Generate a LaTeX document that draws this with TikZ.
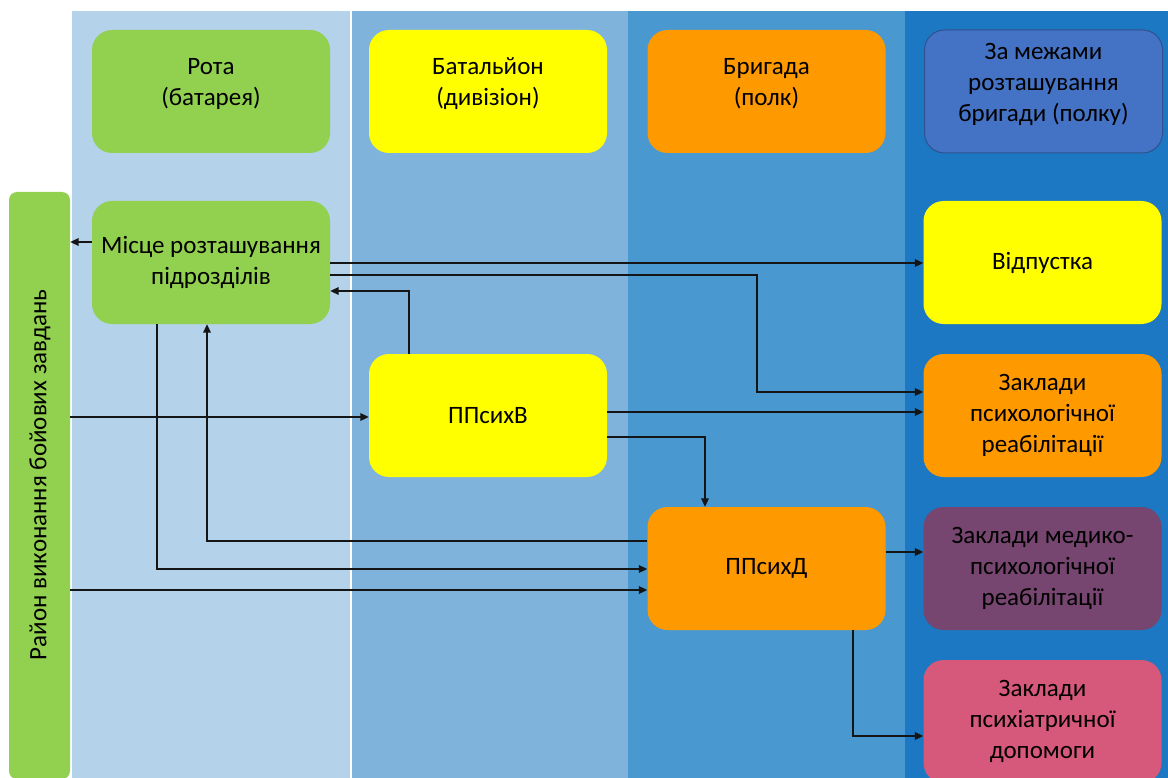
\documentclass[tikz,border=0pt]{standalone}
\usepackage{fontspec}
\setmainfont{Carlito}
\usetikzlibrary{arrows.meta}
\definecolor{colA}{HTML}{B4D2EA}
\definecolor{colB}{HTML}{7FB3DC}
\definecolor{colC}{HTML}{4A98D0}
\definecolor{colD}{HTML}{1C78C2}
\definecolor{cgreen}{HTML}{92D050}
\definecolor{cyellow}{HTML}{FFFF00}
\definecolor{corange}{HTML}{FF9900}
\definecolor{cblue}{HTML}{4472C4}
\definecolor{cblueb}{HTML}{2F528F}
\definecolor{cpurple}{HTML}{764570}
\definecolor{cpink}{HTML}{D6587A}
\definecolor{cline}{HTML}{151515}
\begin{document}
\begin{tikzpicture}[x=1pt,y=-1pt,
  box/.style={rounded corners=20pt, draw=none, inner sep=0pt, minimum width=238pt, minimum height=123pt},
  txt/.style={align=center, font=\fontsize{25}{31}\selectfont, text=black, inner sep=0pt},
  arr/.style={draw=cline, line width=2pt, -{Triangle[length=8.5pt,width=7.5pt]}}]
\useasboundingbox (0,0) rectangle (1168,778);
% columns
\fill[colA] (72,11) rectangle (350,778);
\fill[colB] (352,11) rectangle (628,778);
\fill[colC] (628,11) rectangle (905,778);
\fill[colD] (905,11) rectangle (1168,778);
% header boxes
\node[box, fill=cgreen] (rota) at (211,91.5) {};
\node[txt] (rotat) at (211,84) {Рота\\(батарея)};
\node[box, fill=cyellow] (bat) at (488,91.5) {};
\node[txt] (batt) at (488,84) {Батальйон\\(дивізіон)};
\node[box, fill=corange] (brig) at (766.5,91.5) {};
\node[txt] (brigt) at (766.5,84) {Бригада\\(полк)};
\node[box, fill=cblue, draw=cblueb, line width=1pt] (za) at (1043.5,91.5) {};
\node[txt] (zat) at (1043.5,84) {За межами\\розташування\\бригади (полку)};
% left bar
\node[rounded corners=8pt, fill=cgreen, inner sep=0pt, minimum width=61pt, minimum height=587pt] (bar) at (39.5,485.5) {};
\node[txt, rotate=90] (bart) at (40,475) {Район виконання бойових завдань};
% main boxes
\node[box, fill=cgreen, txt] (mistse) at (211,262.5) {Місце розташування\\підрозділів};
\node[box, fill=cyellow, txt] (ppv) at (488,415.5) {ППсихВ};
\node[box, fill=corange, txt] (ppd) at (766.5,568.5) {ППсихД};
\node[box, fill=cyellow, txt] (vidp) at (1042.5,262.5) {Відпустка};
\node[box, fill=corange, txt] (zpr) at (1042.5,415.5) {Заклади\\психологічної\\реабілітації};
\node[box, fill=cpurple, txt] (zmed) at (1042.5,568.5) {Заклади медико-\\психологічної\\реабілітації};
\node[box, fill=cpink, txt] (zpsy) at (1042.5,721.5) {Заклади\\психіатричної\\допомоги};
% connectors
\coordinate (b3) at (757,392);
\draw[arr] (mistse.west |- 0,242) -- (bar.east |- 0,242);
\draw[arr] (mistse.east |- 0,263) -- (vidp.west |- 0,263);
\draw[arr] (mistse.east |- 0,275) -| (b3) -- (zpr.west |- b3);
\draw[arr] (ppv.north -| 409,0) |- (mistse.east |- 0,291);
\draw[arr] (bar.east |- 0,417) -- (ppv.west |- 0,417);
\draw[arr] (ppv.east |- 0,412) -- (zpr.west |- 0,412);
\draw[arr] (ppv.east |- 0,437) -| (ppd.north -| 705,0);
\draw[arr] (ppd.west |- 0,541) -| (mistse.south -| 207,0);
\draw[arr] (mistse.south -| 157,0) |- (ppd.west |- 0,569);
\draw[arr] (bar.east |- 0,590) -- (ppd.west |- 0,590);
\draw[arr] (ppd.east |- 0,552) -- (zmed.west |- 0,552);
\draw[arr] (ppd.south -| 853,0) |- (zpsy.west |- 0,736);
\end{tikzpicture}
\end{document}
